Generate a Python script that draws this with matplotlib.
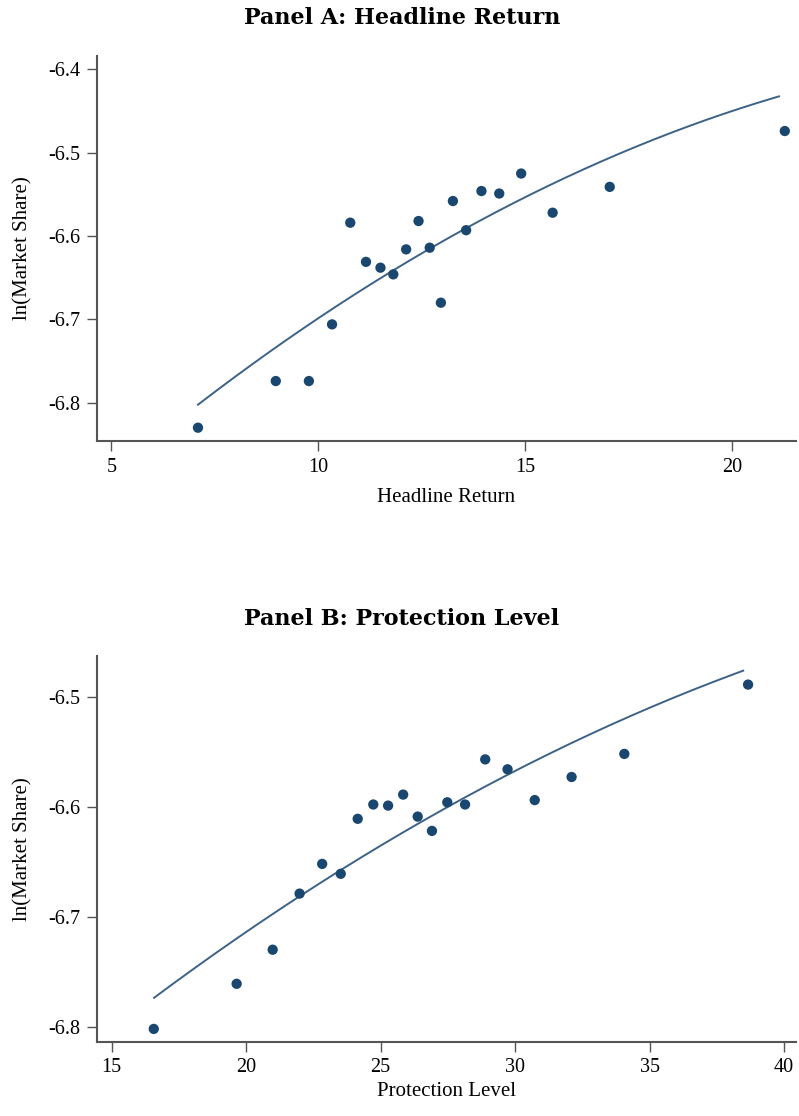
import numpy as np
import matplotlib
matplotlib.use('Agg')
from matplotlib import pyplot as plt

# Panel A: headline return vs ln(market share)
headline_x = [7.09, 8.97, 9.77, 10.33, 10.77, 11.15, 11.50, 11.81, 12.12, 12.42,
              12.69, 12.96, 13.25, 13.57, 13.94, 14.37, 14.90, 15.66, 17.04, 21.27]
headline_y = [-6.830, -6.774, -6.774, -6.706, -6.584, -6.631, -6.638, -6.646, -6.616, -6.582,
              -6.614, -6.680, -6.558, -6.593, -6.546, -6.549, -6.525, -6.572, -6.541, -6.474]
# fitted curve
headline_fit_x = [7.09, 10.28, 11.75, 12.64, 13.50, 14.63, 15.59, 16.96, 18.33, 19.78, 21.13]
headline_fit_y = [-6.801, -6.691, -6.646, -6.614, -6.593, -6.562, -6.540, -6.506, -6.479, -6.453, -6.434]

# Panel B: protection level vs ln(market share)
protect_x = [16.57, 19.65, 20.99, 21.99, 22.83, 23.52, 24.15, 24.73, 25.28, 25.84,
             26.38, 26.91, 27.48, 28.14, 28.89, 29.72, 30.73, 32.10, 34.06, 38.66]
protect_y = [-6.802, -6.761, -6.730, -6.679, -6.652, -6.661, -6.611, -6.598, -6.599, -6.589,
             -6.609, -6.622, -6.596, -6.598, -6.557, -6.566, -6.594, -6.573, -6.552, -6.489]
protect_fit_x = [16.58, 19.16, 21.95, 23.47, 27.58, 27.95, 29.63, 31.92, 34.02, 36.25, 38.48]
protect_fit_y = [-6.773, -6.729, -6.680, -6.661, -6.600, -6.596, -6.569, -6.542, -6.521, -6.499, -6.476]

a_xticks = [5, 10, 15, 20]
a_yticks = [-6.8, -6.7, -6.6, -6.5, -6.4]
b_xticks = [15, 20, 25, 30, 35, 40]
b_yticks = [-6.8, -6.7, -6.6, -6.5]

serif = 'Liberation Serif'
dot_color = '#1a476f'
line_color = '#3d6287'
spine_color = '#555555'

fig = plt.figure(figsize=(7.99, 11.16), dpi=100)


def draw_panel(rect, xs, ys, fx, fy, xticks, yticks, xlim, ylim, xlabel, xlabel_y,
               title, title_y):
    ax = fig.add_axes(rect)
    # smooth the quadratic fit line through the points
    coef = np.polyfit(fx, fy, 2)
    grid = np.linspace(fx[0], fx[-1], 200)
    ax.plot(grid, np.polyval(coef, grid), color=line_color, lw=1.4, zorder=2)
    ax.scatter(xs, ys, s=55, color=dot_color, edgecolors='none', zorder=3)

    ax.set_xlim(xlim)
    ax.set_ylim(ylim)
    ax.set_xticks(xticks)
    ax.set_yticks(yticks)
    ax.set_xticklabels([str(t) for t in xticks], fontfamily=serif, fontsize=14.5)
    ax.set_yticklabels(['%.1f' % t for t in yticks], fontfamily=serif, fontsize=14.5)
    ax.tick_params(direction='out', length=7, width=1, color=spine_color, pad=5)

    for side in ['top', 'right']:
        ax.spines[side].set_visible(False)
    for side in ['left', 'bottom']:
        ax.spines[side].set_color(spine_color)
        ax.spines[side].set_linewidth(1.5)

    ax.set_xlabel(xlabel, fontfamily=serif, fontsize=15)
    ax.set_ylabel('ln(Market Share)', fontfamily=serif, fontsize=15)
    ax.xaxis.set_label_coords(0.5, xlabel_y)
    ax.yaxis.set_label_coords(-0.093, 0.5)

    fig.text(0.503, title_y, title, ha='center', va='baseline', fontsize=16,
             fontfamily='DejaVu Serif', fontweight='bold')
    return ax


draw_panel([0.1214, 0.6048, 0.8748, 0.3450], headline_x, headline_y,
           headline_fit_x, headline_fit_y,
           a_xticks, a_yticks, (4.65, 21.54), (-6.846, -6.384),
           'Headline Return', -0.122, 'Panel A: Headline Return', 0.9785)

draw_panel([0.1214, 0.0666, 0.8748, 0.3456], protect_x, protect_y,
           protect_fit_x, protect_fit_y,
           b_xticks, b_yticks, (14.46, 40.44), (-6.8136, -6.463),
           'Protection Level', -0.105, 'Panel B: Protection Level', 0.440)

plt.savefig('out.png', dpi=100)
